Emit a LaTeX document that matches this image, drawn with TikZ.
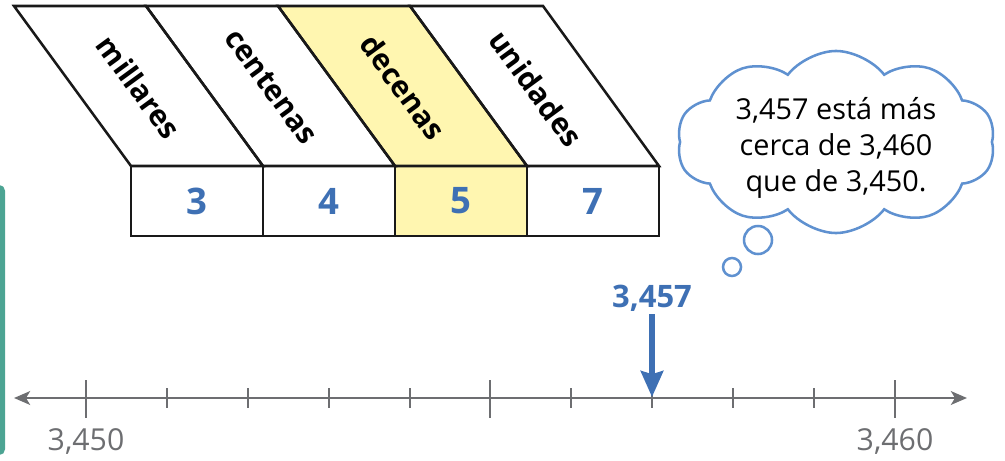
\documentclass[tikz,border=0pt]{standalone}
\usepackage{fontspec}
\setmainfont{Open Sans}
\usetikzlibrary{shapes.symbols, arrows.meta}
\definecolor{chartyellow}{HTML}{FFF6B0}
\definecolor{digitblue}{HTML}{3E70B4}
\definecolor{cloudblue}{HTML}{5F91D0}
\definecolor{linegray}{HTML}{6D6E71}
\definecolor{edgeteal}{HTML}{4CA493}

\begin{document}
\begin{tikzpicture}
        [
            x=0.025cm,
            y=-0.025cm,
            strip/.style={draw=black!90, line width=1.8pt, line join=miter},
            place/.style={rotate=-53.8, font=\fontsize{21}{25}\selectfont\bfseries},
            digit/.style={draw=black!90, line width=1.8pt, minimum width=3.3cm, minimum height=1.75cm, text=digitblue, font=\fontsize{26}{30}\selectfont\bfseries},
            axis/.style={draw=linegray, line width=2pt, >={Stealth[length=4mm, width=3.4mm, inset=1mm]}},
            tick/.style={draw=linegray, line width=2pt},
            value/.style={text=linegray, font=\fontsize{21.5}{26}\selectfont},
            bubble/.style={circle, draw=cloudblue, line width=1.8pt, inner sep=0pt}
        ]
        \useasboundingbox (0,0) rectangle (1005,460);
        \fill[edgeteal, rounded corners=4pt] (-6,185) rectangle (5,455);

        % place value chart
        \fill[chartyellow] (278,6) -- (410,6) -- (527,166) -- (395,166) -- cycle;
        \fill[chartyellow] (395,166) rectangle (527,236);
        \draw[strip] (14,6) -- (146,6) -- (263,166) -- (131,166) -- cycle;
        \draw[strip] (146,6) -- (278,6) -- (395,166) -- (263,166) -- cycle;
        \draw[strip] (278,6) -- (410,6) -- (527,166) -- (395,166) -- cycle;
        \draw[strip] (410,6) -- (543,6) -- (659,166) -- (527,166) -- cycle;
        \node[place] (mil) at (139,87) {millares};
        \node[place] (cen) at (271,87) {centenas};
        \node[place] (dec) at (403,87) {decenas};
        \node[place] (uni) at (536,88) {unidades};
        \node[digit] (d3) at (197,201) {3};
        \node[digit] (d4) at (329,201) {4};
        \node[digit] (d5) at (461,201) {5};
        \node[digit] (d7) at (593,201) {7};

        % thought cloud
        \node[cloud, draw=cloudblue, line width=1.8pt, cloud puffs=10, cloud puff arc=105, aspect=1.75, minimum width=7.95cm, minimum height=4.55cm] (thought) at (836,142) {};
        \node[align=center, font=\fontsize{20.5}{25.5}\selectfont] (idea) at (836,148) {3,457 está más\\cerca de 3,460\\que de 3,450.};
        \node[bubble, minimum size=0.7cm] (puffA) at (758,240) {};
        \node[bubble, minimum size=0.45cm] (puffB) at (732,267) {};

        % number line
        \coordinate (left) at (14,398);
        \coordinate (right) at (967,398);
        \draw[axis, <->] (left) -- (right);
        \draw[tick] (86,380) -- (86,418);
        \draw[tick] (167,388) -- (167,408);
        \draw[tick] (248,388) -- (248,408);
        \draw[tick] (329,388) -- (329,408);
        \draw[tick] (410,388) -- (410,408);
        \draw[tick] (490,380) -- (490,418);
        \draw[tick] (571,388) -- (571,408);
        \draw[tick] (652,388) -- (652,408);
        \draw[tick] (733,388) -- (733,408);
        \draw[tick] (814,388) -- (814,408);
        \draw[tick] (895,380) -- (895,418);
        \node[value] (low) at (86,441) {3,450};
        \node[value] (high) at (895,441) {3,460};

        \node[text=digitblue, inner sep=2pt, font=\fontsize{22}{26}\selectfont\bfseries] (guess) at (652,298) {3,457};
        \coordinate (mark) at (652,397);
        \draw[digitblue, line width=3.6pt, -{Stealth[length=6.5mm, width=5.6mm, inset=0.8mm]}] (guess) -- (mark);

    \end{tikzpicture}
\end{document}
